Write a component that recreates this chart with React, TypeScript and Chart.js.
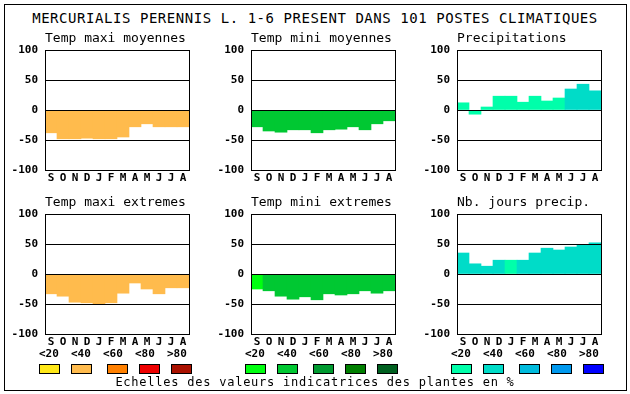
import React, { useEffect, useRef } from "react";
import { Chart, registerables } from "chart.js";

Chart.register(...registerables);

const MONO = "'DejaVu Sans Mono', 'Liberation Mono', monospace";

const months = ["S", "O", "N", "D", "J", "F", "M", "A", "M", "J", "J", "A"];
const yMin = -100;
const yMax = 100;
const yStep = 50;

const mainTitle = "MERCURIALIS PERENNIS L. 1-6 PRESENT DANS 101 POSTES CLIMATIQUES";
const footer = "Echelles des valeurs indicatrices des plantes en %";
const classLabels = ["<20", "<40", "<60", "<80", ">80"];

const orangeScale = ["#FFE818", "#FFBB4D", "#FF8000", "#EE0000", "#AA1100"];
const greenScale = ["#00FF10", "#00C832", "#009A30", "#007F00", "#006020"];
const blueScale = ["#00FFAA", "#00DCC8", "#00BBDD", "#0099EE", "#0000FF"];

const tempMaxiMoy = [-38, -48, -48, -47, -48, -48, -45, -28, -23, -28, -28, -28];
const tempMaxiMoyClass = [1, 1, 1, 1, 1, 1, 1, 1, 1, 1, 1, 1];

const tempMiniMoy = [-28, -35, -37, -33, -33, -38, -33, -32, -28, -33, -23, -18];
const tempMiniMoyClass = [1, 1, 1, 1, 1, 1, 1, 1, 1, 1, 1, 1];

const precip = [12, -7, 5, 23, 23, 13, 23, 15, 20, 35, 43, 32];
const precipClass = [0, 0, 0, 0, 0, 0, 0, 0, 0, 1, 1, 1];

const tempMaxiExt = [-33, -37, -47, -48, -50, -48, -32, -15, -25, -33, -23, -23];
const tempMaxiExtClass = [1, 1, 1, 1, 1, 1, 1, 1, 1, 1, 1, 1];

const tempMiniExt = [-25, -28, -37, -42, -38, -43, -33, -35, -33, -28, -32, -28];
const tempMiniExtClass = [0, 1, 1, 1, 1, 1, 1, 1, 1, 1, 1, 1];

const nbJours = [35, 17, 13, 23, 23, 23, 35, 43, 40, 45, 48, 52];
const nbJoursClass = [1, 1, 1, 1, 0, 1, 1, 1, 1, 1, 1, 1];

const CW = 194;
const CH = 162;

const framePlugin = {
  id: "frame",
  afterDraw(chart: any) {
    const { ctx, chartArea: a } = chart;
    ctx.save();
    ctx.strokeStyle = "#000";
    ctx.lineWidth = 1;
    ctx.strokeRect(Math.round(a.left) + 0.5, Math.round(a.top) + 0.5, Math.round(a.width), Math.round(a.height));
    ctx.restore();
  },
};

function Panel(props: {
  title: string;
  values: number[];
  classes: number[];
  palette: string[];
  left: number;
  top: number;
}) {
  const ref = useRef<HTMLCanvasElement | null>(null);
  useEffect(() => {
    if (!ref.current) return;
    const tickFont = { family: MONO, size: 11, weight: "bold" as const };
    const chart = new Chart(ref.current, {
      type: "bar",
      data: {
        labels: months,
        datasets: [
          {
            data: props.values,
            backgroundColor: props.classes.map((c) => props.palette[c]),
            borderWidth: 0,
            barPercentage: 1,
            categoryPercentage: 1,
          },
        ],
      },
      options: {
        animation: false,
        responsive: false,
        devicePixelRatio: 1,
        layout: { padding: { left: 0, right: 10, top: 0, bottom: 0 } },
        plugins: {
          legend: { display: false },
          tooltip: { enabled: false },
          title: {
            display: true,
            text: props.title,
            align: "start",
            fullSize: false,
            color: "#000",
            font: { family: MONO, size: 13, weight: "normal", lineHeight: "14px" },
            padding: { top: 4, bottom: 4 },
          },
        },
        scales: {
          x: {
            grid: { display: false, drawTicks: false },
            border: { display: false },
            ticks: { color: "#000", font: tickFont, padding: 2, maxRotation: 0, autoSkip: false },
            afterFit: (s: any) => {
              s.height = 20;
            },
          },
          y: {
            min: yMin,
            max: yMax,
            ticks: { stepSize: yStep, color: "#000", font: tickFont, padding: 7 },
            grid: { color: "#000", lineWidth: 1, drawTicks: false, z: 1 },
            border: { display: false },
            afterFit: (s: any) => {
              s.width = 40;
            },
          },
        },
      } as any,
      plugins: [framePlugin],
    });
    return () => chart.destroy();
  }, []);
  return (
    <canvas
      ref={ref}
      width={CW}
      height={CH}
      style={{ position: "absolute", left: props.left, top: props.top, width: CW, height: CH }}
    />
  );
}

function LegendGroup(props: { palette: string[]; x: number }) {
  const boxOffsets = [0, 32, 68, 100, 132];
  const labelOffsets = [0, 32, 64, 96, 128];
  return (
    <>
      {classLabels.map((l, i) => (
        <div
          key={"l" + i}
          style={{
            position: "absolute",
            left: props.x + labelOffsets[i],
            top: 347,
            font: `bold 11px ${MONO}`,
            lineHeight: "13px",
            whiteSpace: "pre",
            color: "#000",
          }}
        >
          {l}
        </div>
      ))}
      {props.palette.map((c, i) => (
        <div
          key={"b" + i}
          style={{
            position: "absolute",
            left: props.x + boxOffsets[i],
            top: 364,
            width: 19,
            height: 8,
            background: c,
            border: "1px solid #000",
          }}
        />
      ))}
    </>
  );
}

export default function App() {
  return (
    <div
      style={{
        position: "absolute",
        left: 0,
        top: 0,
        width: 630,
        height: 394,
        background: "#fff",
        overflow: "hidden",
      }}
    >
      <div
        style={{
          position: "absolute",
          left: 4,
          top: 4,
          width: 621,
          height: 385,
          border: "1px solid #000",
        }}
      />
      <div
        style={{
          position: "absolute",
          left: 0,
          top: 10,
          width: 630,
          textAlign: "center",
          font: `14px ${MONO}`,
          letterSpacing: "0.55px",
          lineHeight: "16px",
          whiteSpace: "pre",
          color: "#000",
        }}
      >
        {mainTitle}
      </div>
      <Panel title="Temp maxi moyennes" values={tempMaxiMoy} classes={tempMaxiMoyClass} palette={orangeScale} left={5} top={28} />
      <Panel title="Temp mini moyennes" values={tempMiniMoy} classes={tempMiniMoyClass} palette={greenScale} left={211} top={28} />
      <Panel title="Precipitations" values={precip} classes={precipClass} palette={blueScale} left={417} top={28} />
      <Panel title="Temp maxi extremes" values={tempMaxiExt} classes={tempMaxiExtClass} palette={orangeScale} left={5} top={192} />
      <Panel title="Temp mini extremes" values={tempMiniExt} classes={tempMiniExtClass} palette={greenScale} left={211} top={192} />
      <Panel title="Nb. jours precip." values={nbJours} classes={nbJoursClass} palette={blueScale} left={417} top={192} />
      <LegendGroup palette={orangeScale} x={39} />
      <LegendGroup palette={greenScale} x={245} />
      <LegendGroup palette={blueScale} x={451} />
      <div
        style={{
          position: "absolute",
          left: 0,
          top: 375,
          width: 630,
          textAlign: "center",
          font: `12px ${MONO}`,
          letterSpacing: "0.76px",
          lineHeight: "14px",
          whiteSpace: "pre",
          color: "#000",
        }}
      >
        {footer}
      </div>
    </div>
  );
}
